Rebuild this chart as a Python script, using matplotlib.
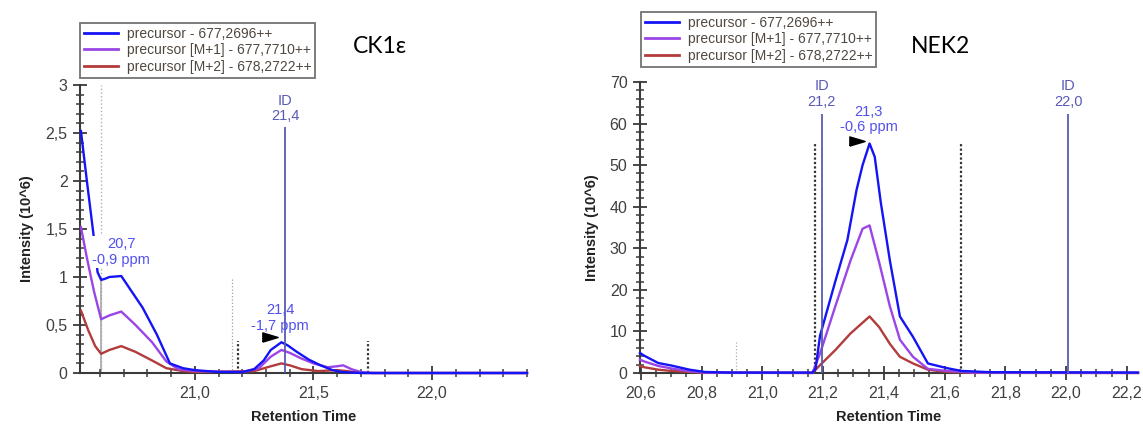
import matplotlib
matplotlib.use("Agg")
import matplotlib.pyplot as plt
from matplotlib.ticker import MultipleLocator, FuncFormatter

# Legend labels of the three traces
LABELS = ["precursor - 677,2696++",
          "precursor [M+1] - 677,7710++",
          "precursor [M+2] - 678,2722++"]
COLORS = ["#1414f5", "#9b45e6", "#b23b3b"]

# CK1e panel (retention time, intensity 10^6)
ck_blue_x = [20.52, 20.545, 20.575, 20.59, 20.605, 20.62, 20.64, 20.69, 20.72, 20.78, 20.84, 20.895,
             20.95, 21.0, 21.1, 21.2, 21.25, 21.29, 21.32, 21.365, 21.39, 21.43, 21.48, 21.53,
             21.58, 21.62, 21.7, 22.4]
ck_blue_y = [2.52, 2.0, 1.4, 1.05, 0.97, 0.98, 1.0, 1.01, 0.9, 0.68, 0.4, 0.1,
             0.05, 0.03, 0.01, 0.01, 0.04, 0.13, 0.24, 0.32, 0.29, 0.22, 0.14, 0.08,
             0.03, 0.01, 0.0, 0.0]
ck_purple_x = [20.52, 20.545, 20.575, 20.605, 20.64, 20.69, 20.75, 20.82, 20.88, 20.93, 21.0, 21.2,
               21.27, 21.32, 21.365, 21.4, 21.45, 21.5, 21.56, 21.6, 21.625, 21.66, 21.7, 21.75, 22.4]
ck_purple_y = [1.52, 1.2, 0.85, 0.56, 0.6, 0.64, 0.5, 0.32, 0.12, 0.04, 0.02, 0.01,
               0.05, 0.17, 0.24, 0.21, 0.15, 0.1, 0.06, 0.07, 0.08, 0.04, 0.01, 0.0, 0.0]
ck_red_x = [20.52, 20.55, 20.58, 20.605, 20.64, 20.69, 20.75, 20.82, 20.88, 20.95, 21.0, 21.25,
            21.32, 21.365, 21.4, 21.45, 21.52, 21.6, 21.64, 21.7, 22.4]
ck_red_y = [0.65, 0.45, 0.28, 0.2, 0.24, 0.28, 0.22, 0.13, 0.05, 0.02, 0.01, 0.02,
            0.07, 0.1, 0.08, 0.04, 0.02, 0.03, 0.02, 0.0, 0.0]

# NEK2 panel
nek_blue_x = [20.597, 20.61, 20.657, 20.7, 20.76, 20.81, 20.9, 21.165, 21.175, 21.19, 21.24, 21.28,
              21.31, 21.33, 21.353, 21.37, 21.39, 21.42, 21.453, 21.496, 21.545, 21.606, 21.655,
              21.75, 22.237]
nek_blue_y = [4.8, 4.2, 2.4, 1.8, 0.8, 0.25, 0.1, 0.1, 1.0, 9.0, 22.0, 32.0,
              44.0, 50.0, 55.2, 52.0, 41.0, 27.0, 13.6, 8.7, 2.3, 1.2, 0.5,
              0.2, 0.1]
nek_purple_x = [20.597, 20.61, 20.657, 20.7, 20.76, 20.81, 21.165, 21.19, 21.24, 21.29, 21.33, 21.353,
                21.385, 21.42, 21.453, 21.496, 21.545, 21.606, 21.7, 22.237]
nek_purple_y = [3.2, 2.8, 1.7, 1.1, 0.4, 0.1, 0.05, 4.7, 16.0, 27.0, 34.7, 35.5,
                26.5, 16.0, 8.0, 3.9, 1.0, 0.5, 0.1, 0.05]
nek_red_x = [20.597, 20.61, 20.657, 20.7, 20.8, 21.165, 21.19, 21.24, 21.29, 21.353, 21.385, 21.42,
             21.453, 21.496, 21.545, 21.6, 21.7, 22.237]
nek_red_y = [1.7, 1.4, 0.8, 0.5, 0.1, 0.0, 1.9, 5.5, 9.5, 13.6, 11.0, 7.0,
             3.9, 2.3, 0.8, 0.3, 0.05, 0.0]

AX_GRAY = "#3a3a3a"
ID_COLOR = "#5a5ab4"
ANN_COLOR = "#5050ee"
W, H = 1143, 429

# flat right-pointing arrowhead used as the apex marker
APEX = [(-1, -0.6), (1, 0), (-1, 0.6), (-1, -0.6)]


def comma(v, pos):
    # decimal comma, no trailing ",0" on the intensity axis
    return f"{v:g}".replace(".", ",")


def rt_fmt(v, pos):
    return f"{v:.1f}".replace(".", ",")


def px_axes(fig, x0, x1, y_top, y_bot):
    # place an axes from pixel edges of the 1143x429 picture
    return fig.add_axes([x0 / W, 1 - y_bot / H, (x1 - x0) / W, (y_bot - y_top) / H])


def style_axes(ax, xlim, ylim, xmaj, xmin, ymaj, ymin):
    ax.set_xlim(*xlim)
    ax.set_ylim(*ylim)
    ax.spines["top"].set_visible(False)
    ax.spines["right"].set_visible(False)
    for s in ["left", "bottom"]:
        ax.spines[s].set_color(AX_GRAY)
        ax.spines[s].set_linewidth(1.5)
    ax.xaxis.set_major_locator(MultipleLocator(xmaj))
    ax.xaxis.set_minor_locator(MultipleLocator(xmin))
    ax.yaxis.set_major_locator(MultipleLocator(ymaj))
    ax.yaxis.set_minor_locator(MultipleLocator(ymin))
    ax.xaxis.set_major_formatter(FuncFormatter(rt_fmt))
    ax.yaxis.set_major_formatter(FuncFormatter(comma))
    ax.tick_params(which="major", direction="inout", length=10, width=1.3,
                   color=AX_GRAY, labelsize=11.5, labelcolor="#404040", pad=4)
    ax.tick_params(which="minor", direction="inout", length=6, width=1.1, color=AX_GRAY)
    ax.set_xlabel("Retention Time", fontsize=10.5, fontweight="bold", color="#222222", labelpad=7)
    ax.set_ylabel("Intensity (10^6)", fontsize=10.5, fontweight="bold", color="#222222", labelpad=8)


def draw_traces(ax, xs, ys):
    # red first so blue ends on top
    handles = []
    for x, y, c, lab in reversed(list(zip(xs, ys, COLORS, LABELS))):
        h, = ax.plot(x, y, color=c, lw=1.7, label=lab, clip_on=False, zorder=3)
        handles.append(h)
    return handles[::-1]


def add_legend(fig, handles, x, y):
    leg = fig.legend(handles=handles, loc="upper left", bbox_to_anchor=(x / W, 1 - y / H),
                     bbox_transform=fig.transFigure, fontsize=10, frameon=True,
                     fancybox=False, handlelength=2.45, handletextpad=0.65,
                     borderpad=0.28, labelspacing=0.17, borderaxespad=0)
    leg.get_frame().set_edgecolor("#505050")
    leg.get_frame().set_linewidth(1.3)
    for t in leg.get_texts():
        t.set_color("#504840")
    for l in leg.get_lines():
        l.set_linewidth(2)


fig = plt.figure(figsize=(11.43, 4.29), dpi=100)
plt.rcParams["font.family"] = ["Liberation Sans", "DejaVu Sans"]

# ---- left panel: CK1e ----
ax1 = px_axes(fig, 80, 527, 85, 373)
style_axes(ax1, (20.516, 22.40), (0, 3), 0.5, 0.1, 0.5, 0.1)
h = draw_traces(ax1, [ck_blue_x, ck_purple_x, ck_red_x], [ck_blue_y, ck_purple_y, ck_red_y])

ax1.vlines(20.605, 0, 3, colors="#b0b0b0", linestyles=":", lw=1.0, zorder=1)
ax1.vlines(20.605, 0, 1.0, colors="#a8a8a8", lw=1.2, zorder=1)
ax1.vlines(21.155, 0, 1.0, colors="#a0a0a0", linestyles=":", lw=0.9, zorder=1)
ax1.vlines([21.18, 21.73], 0, 0.33, colors="#333333", linestyles=(0, (1, 1)), lw=1.6, zorder=2)
ax1.vlines(21.38, 0, 2.56, colors=ID_COLOR, lw=1.3, zorder=4)
ax1.text(21.38, 2.6, "ID\n21,4", ha="center", va="bottom", fontsize=10.5, color=ID_COLOR, linespacing=1.15)
ax1.text(20.69, 1.26, "20,7\n-0,9 ppm", ha="center", va="center", fontsize=10.5, color=ANN_COLOR,
         linespacing=1.15, zorder=5, bbox=dict(facecolor="white", edgecolor="none", pad=0.5))
ax1.text(21.36, 0.57, "21,4\n-1,7 ppm", ha="center", va="center", fontsize=10.5, color=ANN_COLOR,
         linespacing=1.15, zorder=5)
ax1.plot([21.315], [0.37], marker=APEX, color="black", ms=11, zorder=6, clip_on=False)
add_legend(fig, h, 80, 23)
fig.text(353 / W, 1 - 53 / H, "CK1ε", fontsize=16.5, family=["Lato", "DejaVu Sans"], va="baseline")

# ---- right panel: NEK2 ----
ax2 = px_axes(fig, 640, 1138, 82, 373)
style_axes(ax2, (20.597, 22.237), (0, 70), 0.2, 0.05, 10, 2)
h = draw_traces(ax2, [nek_blue_x, nek_purple_x, nek_red_x], [nek_blue_y, nek_purple_y, nek_red_y])

ax2.vlines(20.912, 0, 8, colors="#b0b0b0", linestyles=":", lw=0.9, zorder=1)
ax2.vlines([21.173, 21.655], 0, 55.2, colors="#333333", linestyles=(0, (1, 1)), lw=1.6, zorder=2)
ax2.vlines([21.196, 22.008], 0, 62.4, colors=ID_COLOR, lw=1.3, zorder=4)
ax2.text(21.196, 63.5, "ID\n21,2", ha="center", va="bottom", fontsize=10.5, color=ID_COLOR, linespacing=1.15)
ax2.text(22.008, 63.5, "ID\n22,0", ha="center", va="bottom", fontsize=10.5, color=ID_COLOR, linespacing=1.15)
ax2.text(21.35, 61.0, "21,3\n-0,6 ppm", ha="center", va="center", fontsize=10.5, color=ANN_COLOR,
         linespacing=1.15, zorder=5)
ax2.plot([21.312], [55.8], marker=APEX, color="black", ms=11, zorder=6, clip_on=False)
add_legend(fig, h, 641, 12)
fig.text(911 / W, 1 - 53 / H, "NEK2", fontsize=16.5, family=["Lato", "DejaVu Sans"], va="baseline")

fig.savefig("out.png", dpi=100)
